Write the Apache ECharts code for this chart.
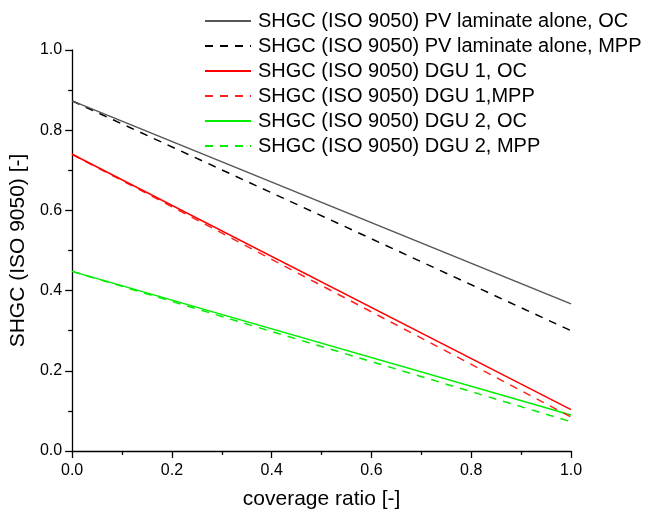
<!DOCTYPE html>
<html><head><meta charset="utf-8">
<script src="https://cdn.jsdelivr.net/npm/echarts@6/dist/echarts.min.js"></script>
<style>html,body{margin:0;padding:0;background:#fff}#c{width:660px;height:515px}</style>
</head><body><div id="c"></div>
<script>
const coverage = [0, 1];
const pvOC  = [0.873, 0.367];
const pvMPP = [0.873, 0.300];
const dgu1OC  = [0.740, 0.103];
const dgu1MPP = [0.740, 0.085];
const dgu2OC  = [0.448, 0.090];
const dgu2MPP = [0.448, 0.073];
const names = [
  'SHGC (ISO 9050) PV laminate alone, OC',
  'SHGC (ISO 9050) PV laminate alone, MPP',
  'SHGC (ISO 9050) DGU 1, OC',
  'SHGC (ISO 9050) DGU 1,MPP',
  'SHGC (ISO 9050) DGU 2, OC',
  'SHGC (ISO 9050) DGU 2, MPP'
];
const values = [pvOC, pvMPP, dgu1OC, dgu1MPP, dgu2OC, dgu2MPP];
const colors = ['#555555', '#000000', '#ff0000', '#ff2020', '#00ee00', '#00ee00'];
const dashed = [false, true, false, true, false, true];
const font = 'Arial, "Liberation Sans", sans-serif';
const series = values.map((v, i) => ({
  name: names[i], type: 'line', symbol: 'none', showSymbol: false,
  data: coverage.map((x, j) => [x, v[j]]),
  lineStyle: { color: colors[i], width: 1.5, type: dashed[i] ? [8, 7] : 'solid' },
  itemStyle: { color: colors[i] },
  z: 10 - i
}));
const chart = echarts.init(document.getElementById('c'));
chart.setOption({
  animation: false,
  backgroundColor: '#fff',
  grid: { left: 71, right: 89, top: 50, bottom: 63, containLabel: false },
  legend: {
    orient: 'vertical', left: 204, top: 11, padding: 0,
    itemWidth: 46, itemHeight: 14, itemGap: 5,
    itemStyle: { opacity: 0 },
    textStyle: { fontFamily: font, fontSize: 20, lineHeight: 20, color: '#000', padding: [0,0,0,2] },
    data: names
  },
  xAxis: {
    type: 'value', min: 0, max: 1, interval: 0.2,
    name: 'coverage ratio [-]', nameLocation: 'middle', nameGap: 38,
    nameTextStyle: { fontFamily: font, fontSize: 21, color: '#000' },
    axisLine: { onZero: false, lineStyle: { color: '#000', width: 1.3 } },
    axisTick: { show: true, length: 7, lineStyle: { color: '#000', width: 1.3 } },
    minorTick: { show: true, splitNumber: 2, length: 4, lineStyle: { color: '#000', width: 1.3 } },
    axisLabel: { fontFamily: font, fontSize: 16, color: '#000', margin: 12, formatter: v => v.toFixed(1) },
    splitLine: { show: false }
  },
  yAxis: {
    type: 'value', min: 0, max: 1, interval: 0.2,
    name: 'SHGC (ISO 9050) [-]', nameLocation: 'middle', nameGap: 40,
    nameTextStyle: { fontFamily: font, fontSize: 21, color: '#000' },
    axisLine: { show: true, onZero: false, lineStyle: { color: '#000', width: 1.3 } },
    axisTick: { show: true, length: 7, lineStyle: { color: '#000', width: 1.3 } },
    minorTick: { show: true, splitNumber: 2, length: 4, lineStyle: { color: '#000', width: 1.3 } },
    axisLabel: { fontFamily: font, fontSize: 16, color: '#000', margin: 10, formatter: v => v.toFixed(1) },
    splitLine: { show: false }
  },
  series: series
});
</script></body></html>
